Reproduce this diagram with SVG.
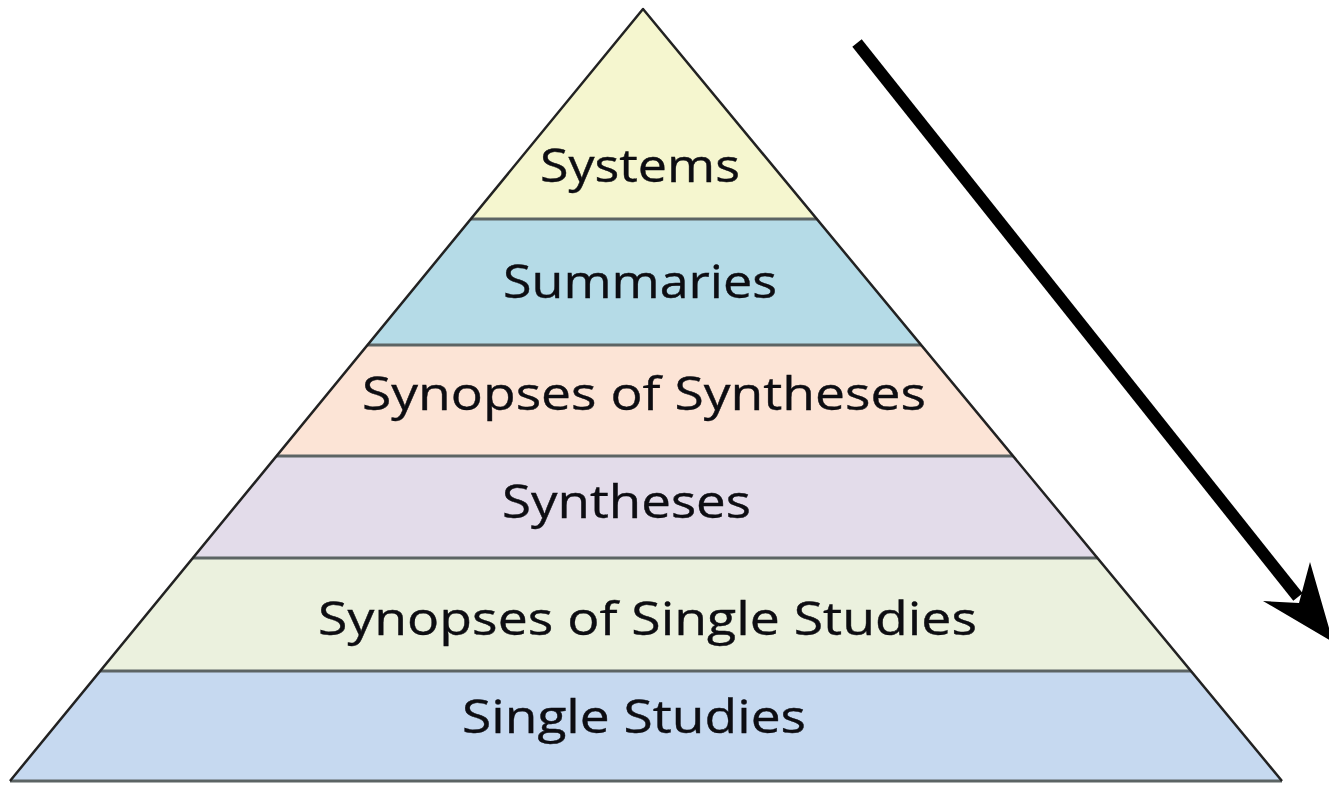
<svg xmlns="http://www.w3.org/2000/svg" width="1329" height="785" viewBox="0 0 1329 785">
<style>
.lbl{font-family:"Open Sans","Noto Sans","Liberation Sans",sans-serif;font-size:46px;fill:#0d0d12;stroke:#0d0d12;stroke-width:0.4;text-anchor:middle}
.sep{stroke:#5c6464;stroke-width:3;fill:none}
.edge{stroke:#222;stroke-width:2.5;fill:none;stroke-linejoin:round}
</style>
<rect width="1329" height="785" fill="#fff"/>
<g id="systems">
<polygon points="643,9 816.8,219 470.8,219" fill="#f5f6cf"/>
<text class="lbl" x="640" y="182" textLength="200" lengthAdjust="spacingAndGlyphs">Systems</text>
</g>
<g id="summaries">
<polygon points="470.8,219 816.8,219 921.1,345 367.5,345" fill="#b5dbe7"/>
<text class="lbl" x="640" y="298" textLength="274" lengthAdjust="spacingAndGlyphs">Summaries</text>
</g>
<g id="synopses-of-syntheses">
<polygon points="367.5,345 921.1,345 1013,456 276.5,456" fill="#fce4d6"/>
<text class="lbl" x="644" y="410" textLength="564" lengthAdjust="spacingAndGlyphs">Synopses of Syntheses</text>
</g>
<g id="syntheses">
<polygon points="276.5,456 1013,456 1097.4,558 192.8,558" fill="#e3dcea"/>
<text class="lbl" x="626.5" y="518" textLength="249" lengthAdjust="spacingAndGlyphs">Syntheses</text>
</g>
<g id="synopses-of-single-studies">
<polygon points="192.8,558 1097.4,558 1191,671 100.2,671" fill="#ebf1de"/>
<text class="lbl" x="647.5" y="635" textLength="659" lengthAdjust="spacingAndGlyphs">Synopses of Single Studies</text>
</g>
<g id="single-studies">
<polygon points="100.2,671 1191,671 1282,781 10,781" fill="#c6d9f0"/>
<text class="lbl" x="634" y="733" textLength="344" lengthAdjust="spacingAndGlyphs">Single Studies</text>
</g>
<g id="outline">
<line class="sep" x1="470.8" y1="219" x2="816.8" y2="219"/>
<line class="sep" x1="367.5" y1="345" x2="921.1" y2="345"/>
<line class="sep" x1="276.5" y1="456" x2="1013" y2="456"/>
<line class="sep" x1="192.8" y1="558" x2="1097.4" y2="558"/>
<line class="sep" x1="100.2" y1="671" x2="1191" y2="671"/>
<line class="sep" x1="10" y1="781" x2="1282" y2="781"/>
<polyline class="edge" points="10,781 643,9 1282,781"/>
</g>
<g id="connectors">
<line x1="857" y1="43" x2="1298" y2="597" stroke="#000" stroke-width="12"/>
<polygon points="1263,601 1299,603 1310,562 1333,642" fill="#000"/>
</g>
</svg>
